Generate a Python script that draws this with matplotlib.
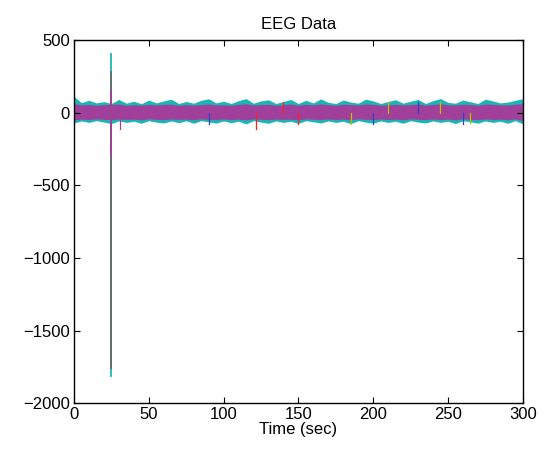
import numpy as np
import matplotlib
matplotlib.use("Agg")
import matplotlib.pyplot as plt

plt.rcParams["font.family"] = ["Liberation Sans", "DejaVu Sans"]
font_size = 12

# envelope of the 19 overlaid channels, read every 5 s (uV)
times = np.arange(0, 301, 5)
cyan_hi = [110, 68, 84, 66, 75, 62, 90, 64, 78, 60, 86, 66, 80, 92, 62, 76, 64, 84, 95, 66,
           78, 62, 82, 96, 64, 80, 88, 62, 76, 90, 62, 84, 66, 94, 70, 62, 86, 72, 64, 92,
           80, 62, 76, 88, 64, 78, 90, 62, 82, 96, 70, 64, 86, 74, 62, 92, 80, 66, 72, 84, 95]
mag_hi = [60, 52, 55, 50, 54, 56, 58, 50, 53, 51, 55, 52, 56, 57, 50, 54, 51, 55, 58, 52,
          53, 50, 56, 60, 52, 54, 57, 50, 53, 58, 51, 56, 52, 59, 54, 50, 57, 55, 52, 58,
          56, 50, 53, 57, 52, 55, 58, 51, 56, 60, 53, 52, 57, 55, 50, 58, 56, 53, 52, 57, 60]
mag_lo = [-50, -46, -48, -44, -47, -49, -45, -48, -46, -50, -44, -47, -49, -45, -48, -46, -50, -44, -47, -49,
          -45, -48, -46, -50, -44, -47, -49, -45, -48, -46, -50, -44, -47, -49, -45, -48, -46, -50, -44, -47,
          -49, -45, -48, -46, -50, -44, -47, -49, -45, -48, -46, -50, -44, -47, -49, -45, -48, -46, -50, -44, -55]
cyan_lo = [-72, -58, -68, -56, -66, -76, -57, -68, -60, -74, -56, -66, -72, -58, -70, -57, -74, -56, -64, -73,
           -58, -70, -60, -78, -56, -66, -74, -58, -68, -60, -75, -56, -64, -72, -58, -68, -60, -76, -56, -66,
           -73, -58, -68, -60, -74, -56, -66, -72, -58, -68, -60, -76, -56, -64, -73, -58, -68, -60, -74, -56, -78]

# artifact at ~24.5 s (uV): (max, min, colour), drawn in this order
spike_time = 24.5
spike_channels = [(402, -1812, "#1bb5b5"), (280, -1760, "#6a6a6a"), (150, -300, "#a0409a")]

# isolated excursions of single channels: (time, value, colour)
blips = [(30.7, -113, "#a0409a"), (122, -113, "#ff2020"), (150, -80, "#ff2020"), (185, -78, "#bfbf00"),
         (200, -80, "#3040c0"), (210, 72, "#bfbf00"), (245, 70, "#bfbf00"), (260, -80, "#3040c0"),
         (230, 72, "#3040c0"), (265, -74, "#bfbf00"), (140, 70, "#ff2020"), (90, -76, "#3040c0")]

fig = plt.figure(figsize=(5.52, 4.53), dpi=100)
ax = fig.add_axes([0.134, 0.110, 0.813, 0.802])

ax.fill_between(times, cyan_lo, cyan_hi, color="#1bb5b5", lw=0)
for t, v, c in blips:
    ax.plot([t, t], [0, v], color=c, lw=0.9)
ax.fill_between(times, mag_lo, mag_hi, color="#a0409a", lw=0)
for hi, lo, c in spike_channels:
    ax.plot([spike_time, spike_time], [lo, hi], color=c, lw=1.3)

ax.set_xlim(0, 300)
ax.set_ylim(-2000, 500)
ax.set_xticks([0, 50, 100, 150, 200, 250, 300])
ax.set_yticks([-2000, -1500, -1000, -500, 0, 500])
ax.set_yticklabels(["\u22122000", "\u22121500", "\u22121000", "\u2212500", "0", "500"])
ax.tick_params(direction="in", top=True, right=True, labelsize=font_size, length=4, pad=3)
for s in ax.spines.values():
    s.set_linewidth(1.0)
ax.set_xlabel("Time (sec)", fontsize=font_size, labelpad=0)
ax.set_title("EEG Data", fontsize=font_size, pad=8)

fig.savefig("out.png", dpi=100)
